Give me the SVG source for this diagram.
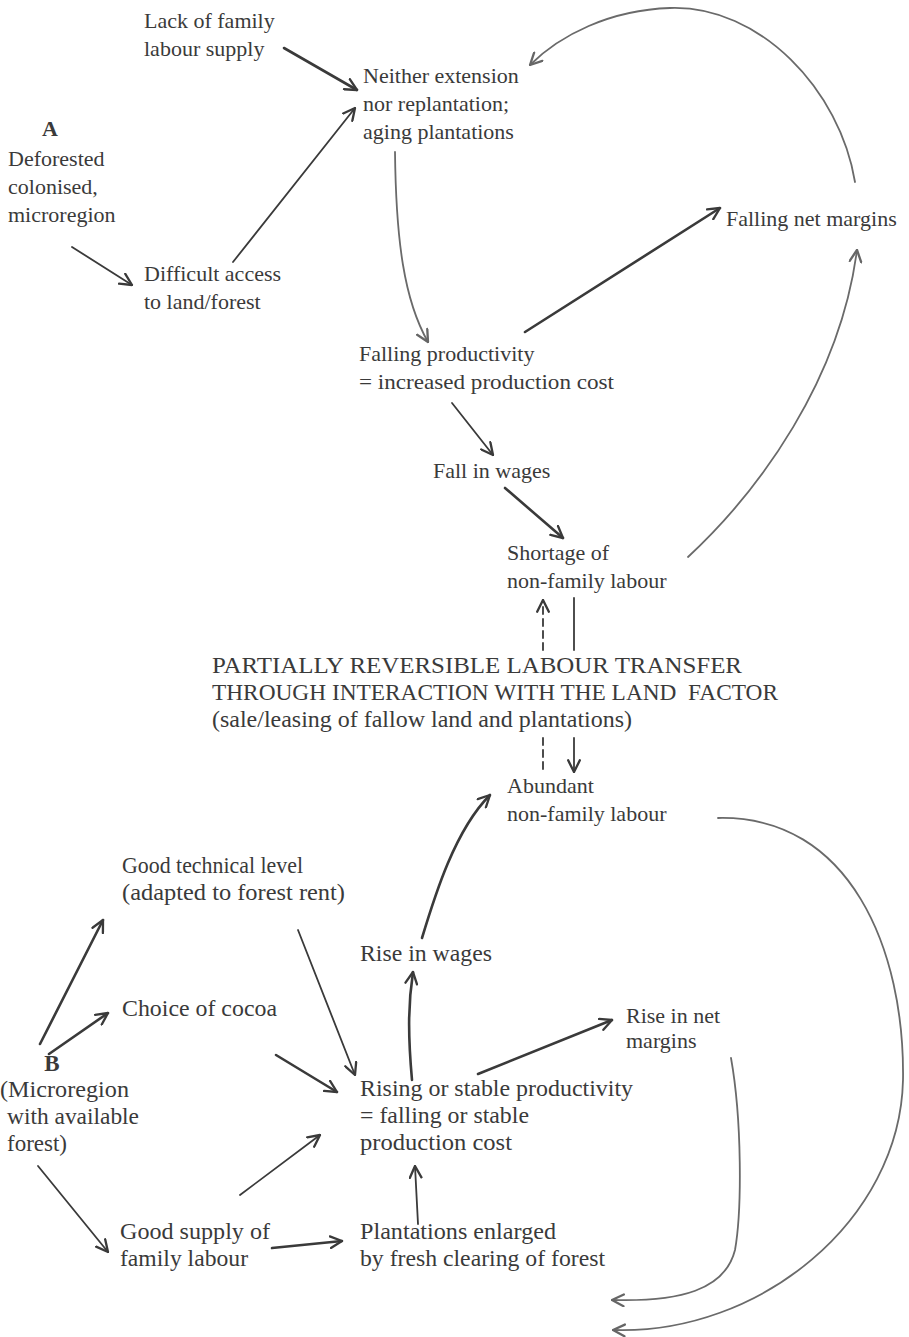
<svg xmlns="http://www.w3.org/2000/svg" width="909" height="1337" viewBox="0 0 909 1337">
<defs>
<marker id="ah" viewBox="0 0 12 12" refX="11" refY="6" markerWidth="14" markerHeight="14" markerUnits="userSpaceOnUse" orient="auto">
<path d="M1,1 L11,6 L1,11" fill="none" stroke="#3a3a3a" stroke-width="2" stroke-linecap="round" stroke-linejoin="round"/>
</marker>
<marker id="ahg" viewBox="0 0 12 12" refX="11" refY="6" markerWidth="14" markerHeight="14" markerUnits="userSpaceOnUse" orient="auto">
<path d="M1,1 L11,6 L1,11" fill="none" stroke="#666" stroke-width="2" stroke-linecap="round" stroke-linejoin="round"/>
</marker>
<style>
text{font-family:"Liberation Serif","Times New Roman",serif;font-size:22px;fill:#3a3a3a}
.L{font-size:23px}
.b{font-weight:bold}
.c{fill:none;stroke:#3a3a3a;stroke-width:1.8;stroke-linecap:round}
.t{stroke-width:2.6}
.g{stroke:#6a6a6a;stroke-width:1.8}
.d{stroke-dasharray:7,5}
</style>
</defs>
<g id="connectors">
<line class="c t" x1="284" y1="48" x2="357" y2="90" marker-end="url(#ah)"/>
<line class="c" x1="72" y1="247" x2="132" y2="285" marker-end="url(#ah)"/>
<line class="c" x1="233" y1="262" x2="355" y2="108" marker-end="url(#ah)"/>
<path class="c g" d="M395,152 C396,240 404,300 428,342" marker-end="url(#ahg)"/>
<line class="c t" x1="525" y1="332" x2="720" y2="208" marker-end="url(#ah)"/>
<path class="c g" d="M855,182 C840,90 760,5 670,8 C610,10 560,35 530,65" marker-end="url(#ahg)"/>
<line class="c" x1="452" y1="403" x2="493" y2="455" marker-end="url(#ah)"/>
<line class="c t" x1="505" y1="488" x2="563" y2="538" marker-end="url(#ah)"/>
<path class="c g" d="M688,557 C760,490 840,380 857,250" marker-end="url(#ahg)"/>
<line class="c d" x1="543" y1="650" x2="543" y2="600" marker-end="url(#ah)"/>
<line class="c" x1="574" y1="598" x2="574" y2="650"/>
<line class="c d" x1="543" y1="738" x2="543" y2="772"/>
<line class="c" x1="574" y1="738" x2="574" y2="772" marker-end="url(#ah)"/>
<path class="c g" d="M718,818 C850,815 905,950 903,1080 C900,1220 760,1335 613,1330" marker-end="url(#ahg)"/>
<path class="c g" d="M731,1058 C742,1120 742,1210 735,1250 C725,1290 680,1302 612,1300" marker-end="url(#ahg)"/>
<path class="c t" d="M422,938 C435,895 455,830 490,795" marker-end="url(#ah)"/>
<path class="c t" d="M412,1080 C408,1035 408,1005 413,972" marker-end="url(#ah)"/>
<line class="c t" x1="478" y1="1074" x2="612" y2="1020" marker-end="url(#ah)"/>
<line class="c" x1="418" y1="1224" x2="415" y2="1166" marker-end="url(#ah)"/>
<line class="c t" x1="272" y1="1248" x2="342" y2="1241" marker-end="url(#ah)"/>
<line class="c" x1="240" y1="1195" x2="320" y2="1135" marker-end="url(#ah)"/>
<line class="c t" x1="276" y1="1055" x2="337" y2="1092" marker-end="url(#ah)"/>
<line class="c" x1="298" y1="930" x2="355" y2="1075" marker-end="url(#ah)"/>
<line class="c t" x1="40" y1="1044" x2="103" y2="920" marker-end="url(#ah)"/>
<line class="c t" x1="49" y1="1054" x2="108" y2="1013" marker-end="url(#ah)"/>
<line class="c" x1="38" y1="1166" x2="108" y2="1252" marker-end="url(#ah)"/>
</g>
<g id="n-lack"><text x="144" y="28">Lack of family</text><text x="144" y="56">labour supply</text></g>
<g id="n-neither"><text x="363" y="83">Neither extension</text><text x="363" y="111">nor replantation;</text><text x="363" y="139">aging plantations</text></g>
<g id="n-a"><text class="b" x="50" y="136" text-anchor="middle">A</text><text x="8" y="166">Deforested</text><text x="8" y="194">colonised,</text><text x="8" y="222">microregion</text></g>
<g id="n-difficult"><text x="144" y="281">Difficult access</text><text x="144" y="309">to land/forest</text></g>
<g id="n-fallingmargins"><text x="726" y="226">Falling net margins</text></g>
<g id="n-fallingprod"><text x="359" y="361">Falling productivity</text><text x="359" y="389" textLength="255" lengthAdjust="spacingAndGlyphs">= increased production cost</text></g>
<g id="n-fallwages"><text x="433" y="478">Fall in wages</text></g>
<g id="n-shortage"><text x="507" y="560">Shortage of</text><text x="507" y="588">non-family labour</text></g>
<g id="n-transfer"><text class="L" x="212" y="673" textLength="530" lengthAdjust="spacingAndGlyphs">PARTIALLY REVERSIBLE LABOUR TRANSFER</text><text class="L" x="212" y="700" textLength="566" lengthAdjust="spacingAndGlyphs" xml:space="preserve">THROUGH INTERACTION WITH THE LAND  FACTOR</text><text class="L" x="212" y="727" textLength="420" lengthAdjust="spacingAndGlyphs">(sale/leasing of fallow land and plantations)</text></g>
<g id="n-abundant"><text x="507" y="793">Abundant</text><text x="507" y="821">non-family labour</text></g>
<g id="n-technical"><text class="L" x="122" y="873" textLength="181" lengthAdjust="spacingAndGlyphs">Good technical level</text><text class="L" x="122" y="900" textLength="223" lengthAdjust="spacingAndGlyphs">(adapted to forest rent)</text></g>
<g id="n-risewages"><text class="L" x="360" y="961" textLength="132" lengthAdjust="spacingAndGlyphs">Rise in wages</text></g>
<g id="n-cocoa"><text class="L" x="122" y="1016" textLength="155" lengthAdjust="spacingAndGlyphs">Choice of cocoa</text></g>
<g id="n-risemargins"><text x="626" y="1023">Rise in net</text><text x="626" y="1048">margins</text></g>
<g id="n-b"><text class="b L" x="52" y="1071" text-anchor="middle">B</text><text class="L" x="0" y="1097" textLength="129" lengthAdjust="spacingAndGlyphs">(Microregion</text><text class="L" x="7" y="1124" textLength="132" lengthAdjust="spacingAndGlyphs">with available</text><text class="L" x="7" y="1151">forest)</text></g>
<g id="n-rising"><text class="L" x="360" y="1096" textLength="273" lengthAdjust="spacingAndGlyphs">Rising or stable productivity</text><text class="L" x="360" y="1123" textLength="169" lengthAdjust="spacingAndGlyphs">= falling or stable</text><text class="L" x="360" y="1150" textLength="152" lengthAdjust="spacingAndGlyphs">production cost</text></g>
<g id="n-supply"><text class="L" x="120" y="1239" textLength="150" lengthAdjust="spacingAndGlyphs">Good supply of</text><text class="L" x="120" y="1266" textLength="128" lengthAdjust="spacingAndGlyphs">family labour</text></g>
<g id="n-plantations"><text class="L" x="360" y="1239" textLength="196" lengthAdjust="spacingAndGlyphs">Plantations enlarged</text><text class="L" x="360" y="1266" textLength="245" lengthAdjust="spacingAndGlyphs">by fresh clearing of forest</text></g>
</svg>
